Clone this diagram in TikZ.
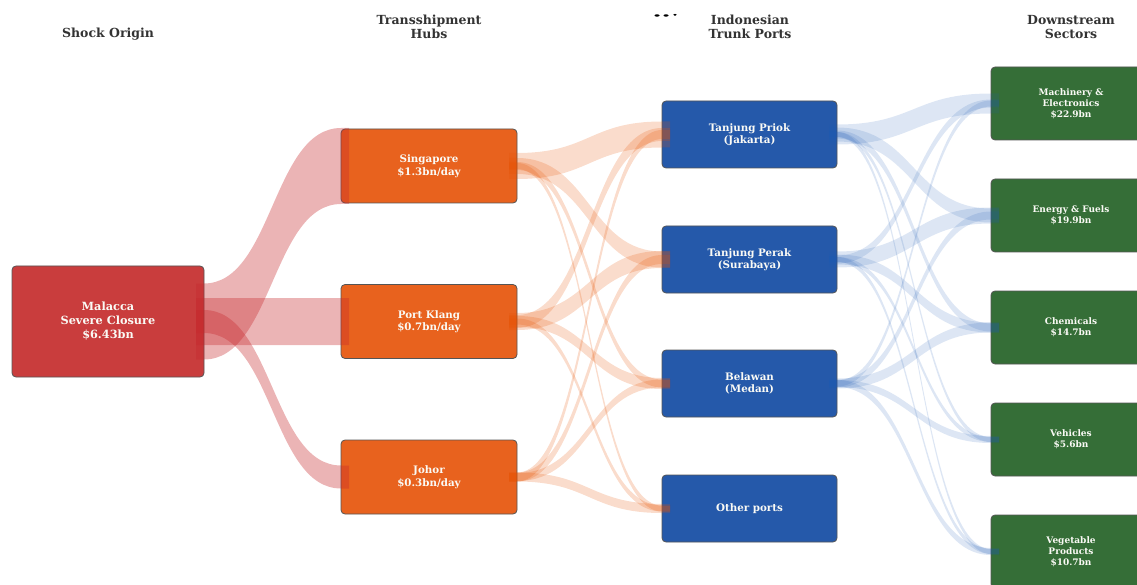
\documentclass[tikz,border=0pt]{standalone}
\usepackage{fontspec}
\setmainfont{DejaVu Serif}
\usetikzlibrary{calc}
\definecolor{redbox}{RGB}{201,61,61}
\definecolor{orangebox}{RGB}{232,98,30}
\definecolor{bluebox}{RGB}{37,89,170}
\definecolor{greenbox}{RGB}{53,110,55}
\definecolor{redflow}{RGB}{198,40,44}
\definecolor{orangeflow}{RGB}{230,81,0}
\definecolor{blueflow}{RGB}{30,90,180}
\definecolor{hdr}{RGB}{51,51,51}
\definecolor{boxline}{RGB}{85,85,85}
\definecolor{boxtext}{RGB}{250,250,245}
\newcommand\ribbon[4]{%
 \fill[#1] let \p1=(#2.east), \p2=(#3.west) in
  (\x1-8pt,\y1+#4pt) -- (\x1,\y1+#4pt)
  .. controls ({0.5*\x1+0.5*\x2},\y1+#4pt) and ({0.5*\x1+0.5*\x2},\y2+#4pt) .. (\x2,\y2+#4pt)
  -- (\x2+8pt,\y2+#4pt) -- (\x2+8pt,\y2-#4pt) -- (\x2,\y2-#4pt)
  .. controls ({0.5*\x1+0.5*\x2},\y2-#4pt) and ({0.5*\x1+0.5*\x2},\y1-#4pt) .. (\x1,\y1-#4pt)
  -- (\x1-8pt,\y1-#4pt) -- cycle;}
\tikzset{
  box/.style={draw=boxline, line width=0.8pt, rounded corners=4pt, text=boxtext,
    align=center, inner sep=0pt, outer sep=0pt},
  origin/.style={box, fill=redbox, minimum width=192pt, minimum height=111pt,
    font=\fontsize{11.3}{14}\selectfont\bfseries},
  hub/.style={box, fill=orangebox, minimum width=176pt, minimum height=74pt,
    font=\fontsize{10.3}{12.5}\selectfont\bfseries},
  port/.style={box, fill=bluebox, minimum width=175pt, minimum height=67pt,
    font=\fontsize{10.3}{12.5}\selectfont\bfseries},
  sector/.style={box, fill=greenbox, minimum width=160pt, minimum height=73pt,
    font=\fontsize{9}{11}\selectfont\bfseries},
  header/.style={text=hdr, align=center, font=\fontsize{12.5}{14}\selectfont\bfseries},
  rflow/.style={redflow, fill opacity=0.35},
  oflow/.style={orangeflow, fill opacity=0.2},
  bflow/.style={blueflow, fill opacity=0.15},
}
\begin{document}
\begin{tikzpicture}[x=1pt,y=-1pt]
\useasboundingbox (0,0) rectangle (1137,585);
\clip (0,0) rectangle (1137,585);
% headers
\node[header] (h1) at (108,34) {Shock Origin};
\node[header] (h2) at (429,27) {Transshipment\\Hubs};
\node[header] (h3) at (750,27) {Indonesian\\Trunk Ports};
\node[header] (h4) at (1071,27) {Downstream\\Sectors};
\fill[black] (657,15.5) ellipse (2.5 and 1.2);
\fill[black] (666,15.5) ellipse (2.5 and 1.2);
\fill[black] (675,14.8) ellipse (1.8 and 1);
% nodes
\node[origin] (mal) at (108,321.5) {Malacca\\Severe Closure\\\$6.43bn};
\node[hub] (sg) at (429,166) {Singapore\\\$1.3bn/day};
\node[hub] (pk) at (429,321.5) {Port Klang\\\$0.7bn/day};
\node[hub] (jh) at (429,477) {Johor\\\$0.3bn/day};
\node[port] (tp) at (749.5,134.5) {Tanjung Priok\\(Jakarta)};
\node[port] (tk) at (749.5,259.5) {Tanjung Perak\\(Surabaya)};
\node[port] (bl) at (749.5,383.5) {Belawan\\(Medan)};
\node[port] (ot) at (749.5,508.5) {Other ports};
\node[sector] (me) at (1071,103.5) {Machinery \&\\Electronics\\\$22.9bn};
\node[sector] (ef) at (1071,215.5) {Energy \& Fuels\\\$19.9bn};
\node[sector] (ch) at (1071,327.5) {Chemicals\\\$14.7bn};
\node[sector] (ve) at (1071,439.5) {Vehicles\\\$5.6bn};
\node[sector] (vp) at (1071,551.5) {Vegetable\\Products\\\$10.7bn};
% flows: origin -> hubs
\ribbon{rflow}{mal}{sg}{38}
\ribbon{rflow}{mal}{pk}{23.5}
\ribbon{rflow}{mal}{jh}{11.5}
% hubs -> ports
\ribbon{oflow}{sg}{tp}{13}
\ribbon{oflow}{sg}{tk}{8}
\ribbon{oflow}{sg}{bl}{4}
\ribbon{oflow}{sg}{ot}{3}
\ribbon{oflow}{pk}{tp}{6.5}
\ribbon{oflow}{pk}{tk}{8.5}
\ribbon{oflow}{pk}{bl}{5.5}
\ribbon{oflow}{pk}{ot}{3}
\ribbon{oflow}{jh}{tp}{4.5}
\ribbon{oflow}{jh}{tk}{4.5}
\ribbon{oflow}{jh}{bl}{4}
\ribbon{oflow}{jh}{ot}{4.5}
% ports -> sectors
\ribbon{bflow}{tp}{me}{10}
\ribbon{bflow}{tp}{ef}{7}
\ribbon{bflow}{tp}{ch}{4}
\ribbon{bflow}{tp}{ve}{2.5}
\ribbon{bflow}{tp}{vp}{2.5}
\ribbon{bflow}{tk}{me}{4}
\ribbon{bflow}{tk}{ef}{8}
\ribbon{bflow}{tk}{ch}{5}
\ribbon{bflow}{tk}{ve}{2.5}
\ribbon{bflow}{tk}{vp}{2.5}
\ribbon{bflow}{bl}{me}{3}
\ribbon{bflow}{bl}{ef}{4}
\ribbon{bflow}{bl}{ch}{5}
\ribbon{bflow}{bl}{ve}{3.5}
\ribbon{bflow}{bl}{vp}{3.5}
\end{tikzpicture}
\end{document}
